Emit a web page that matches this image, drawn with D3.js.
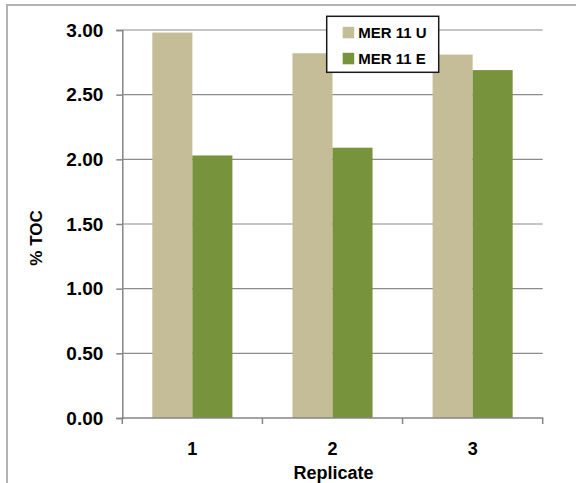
<!DOCTYPE html>
<html>
<head>
<meta charset="utf-8">
<script src="https://cdn.jsdelivr.net/npm/d3@7"></script>
<style>
  body { margin: 0; background: #fff; }
  text { font-family: "Liberation Sans", Arial, sans-serif; font-weight: bold; fill: #000; }
</style>
</head>
<body>
<div id="chart"></div>
<script>
// chart data
const categories = ["1", "2", "3"];
const seriesNames = ["MER 11 U", "MER 11 E"];
const valuesU = [2.98, 2.82, 2.81];
const valuesE = [2.03, 2.09, 2.69];
const yTicks = [0, 0.5, 1, 1.5, 2, 2.5, 3];
const colors = ["#C4BD97", "#77933C"];

const w = 576, h = 483;
const plotLeft = 122.3, plotRight = 542.7, plotTop = 30, plotBottom = 418;

const svg = d3.select('#chart')
  .append('svg')
    .attr('width', w)
    .attr('height', h);

// outer chart frame
svg.append('rect')
  .attr('x', 7)
  .attr('y', 5)
  .attr('width', w)
  .attr('height', h)
  .attr('fill', '#fff')
  .attr('stroke', '#b3b3b3')
  .attr('stroke-width', 2);

const x = d3.scaleBand()
  .domain(categories)
  .range([plotLeft, plotRight]);

const xSub = d3.scaleBand()
  .domain(seriesNames)
  .range([0, x.bandwidth()])
  .paddingOuter(0.75);

const y = d3.scaleLinear()
  .domain([0, 3])
  .range([plotBottom, plotTop]);

// gridlines
svg.append('g')
  .selectAll('line')
  .data(yTicks.filter(d => d > 0))
  .enter()
  .append('line')
  .attr('x1', plotLeft)
  .attr('x2', plotRight)
  .attr('y1', d => y(d))
  .attr('y2', d => y(d))
  .attr('stroke', '#8c8c8c')
  .attr('stroke-width', 1.2);

// bars
const table = categories.map((c, i) => ({cat: c, vals: [valuesU[i], valuesE[i]]}));

const groups = svg.append('g')
  .selectAll('g')
  .data(table)
  .enter()
  .append('g')
  .attr('transform', d => 'translate(' + x(d.cat) + ',0)');

groups.selectAll('rect')
  .data(d => d.vals.map((v, j) => ({name: seriesNames[j], value: v, j: j})))
  .enter()
  .append('rect')
  .attr('x', d => xSub(d.name))
  .attr('width', xSub.bandwidth())
  .attr('y', d => y(d.value))
  .attr('height', d => plotBottom - y(d.value))
  .attr('fill', d => colors[d.j]);

// y axis
const yAxis = d3.axisLeft(y)
  .tickValues(yTicks)
  .tickFormat(d3.format('.2f'))
  .tickSize(6)
  .tickPadding(13);

const yg = svg.append('g')
  .attr('transform', 'translate(' + plotLeft + ',0)')
  .call(yAxis);
yg.select('.domain').attr('stroke', '#868686').attr('stroke-width', 1.5);
yg.selectAll('.tick line').attr('stroke', '#868686').attr('stroke-width', 1.5);
yg.selectAll('.tick text').style('font-size', '19px').attr('fill', '#000');

// x axis
const xAxis = d3.axisBottom(x)
  .tickSize(0)
  .tickPadding(24);

const xg = svg.append('g')
  .attr('transform', 'translate(0,' + plotBottom + ')')
  .call(xAxis);
xg.select('.domain').attr('stroke', '#868686').attr('stroke-width', 1.5)
  .attr('d', 'M' + plotLeft + ',6V0H' + plotRight + 'V6');
xg.selectAll('.tick text').style('font-size', '18px').attr('fill', '#000');

// category boundary ticks
xg.append('g')
  .selectAll('line')
  .data(categories.slice(1))
  .enter()
  .append('line')
  .attr('x1', d => x(d))
  .attr('x2', d => x(d))
  .attr('y1', 0)
  .attr('y2', 6)
  .attr('stroke', '#868686')
  .attr('stroke-width', 1.5);

// axis titles
svg.append('text')
  .attr('x', (plotLeft + plotRight) / 2 + 1)
  .attr('y', 479)
  .attr('text-anchor', 'middle')
  .style('font-size', '18px')
  .text('Replicate');

svg.append('text')
  .attr('transform', 'translate(42,238) rotate(-90)')
  .attr('text-anchor', 'middle')
  .style('font-size', '17px')
  .text('% TOC');

// legend
const legend = svg.append('g')
  .attr('transform', 'translate(326.7,16.3)');

legend.append('rect')
  .attr('width', 112)
  .attr('height', 56)
  .attr('fill', '#fff')
  .attr('stroke', '#1a1a1a')
  .attr('stroke-width', 1.5);

const items = legend.selectAll('g')
  .data(seriesNames)
  .enter()
  .append('g')
  .attr('transform', (d, i) => 'translate(16,' + (10.5 + i * 26) + ')');

items.append('rect')
  .attr('width', 11.5)
  .attr('height', 11.5)
  .attr('fill', (d, i) => colors[i]);

items.append('text')
  .attr('x', 15.5)
  .attr('y', 11.2)
  .style('font-size', '15px')
  .text(d => d);
</script>
</body>
</html>
